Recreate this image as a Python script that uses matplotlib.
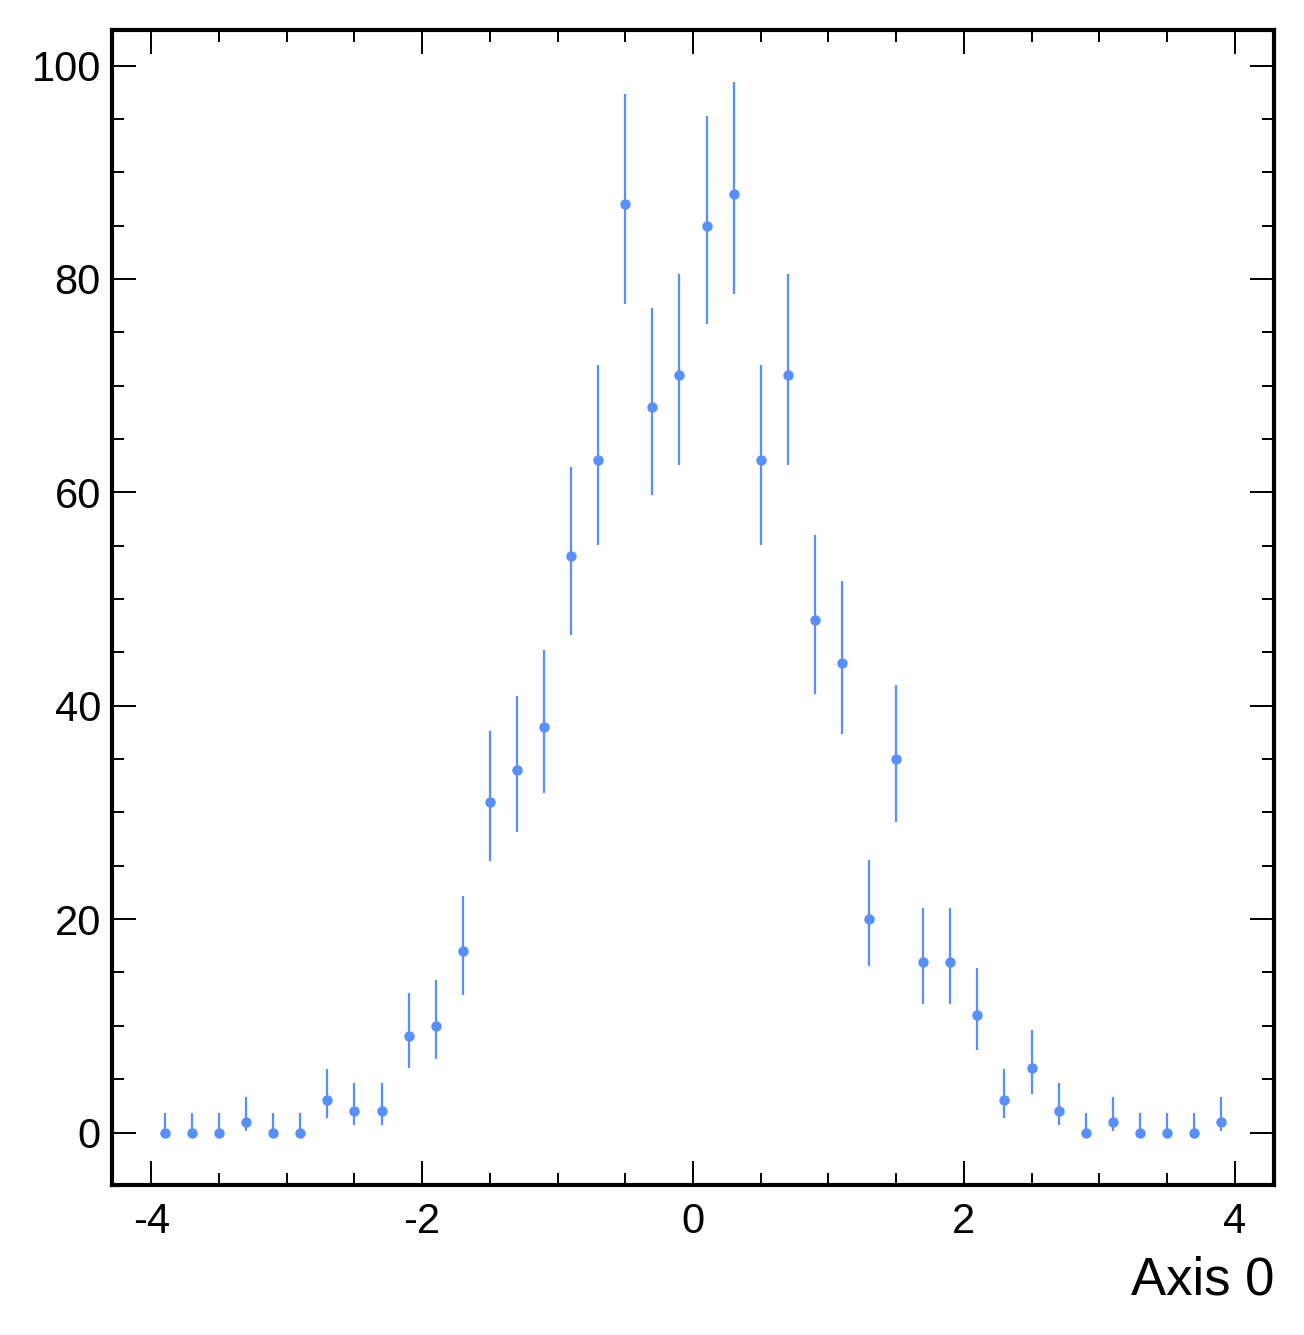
import math
import numpy as np
import matplotlib
matplotlib.use("Agg")
import matplotlib.pyplot as plt
from matplotlib.ticker import MultipleLocator

# Histogram: 40 bins from -4 to 4
bin_edges = np.linspace(-4, 4, 41)
counts = [0, 0, 0, 1, 0, 0, 3, 2, 2, 9,
          10, 17, 31, 34, 38, 54, 63, 87, 68, 71,
          85, 88, 63, 71, 48, 44, 20, 35, 16, 16,
          11, 3, 6, 2, 0, 1, 0, 0, 0, 1]
x_label = "Axis 0"
color = "#5790fc"


def pois_cdf(n, mu):
    s = 0.0
    term = math.exp(-mu)
    for k in range(n + 1):
        if k > 0:
            term *= mu / k
        s += term
    return s


def solve(f, lo, hi):
    for _ in range(200):
        mid = 0.5 * (lo + hi)
        if f(mid) > 0:
            lo = mid
        else:
            hi = mid
    return 0.5 * (lo + hi)


alpha = 0.158655
lows, highs = [], []
for n in counts:
    up = solve(lambda mu: pois_cdf(n, mu) - alpha, n, n + 10 * math.sqrt(n + 1) + 10)
    if n == 0:
        lo = 0.0
    else:
        lo = solve(lambda mu: alpha - (1 - pois_cdf(n - 1, mu)), 0, n)
    lows.append(n - lo)
    highs.append(up - n)

centers = 0.5 * (bin_edges[1:] + bin_edges[:-1])

plt.rcParams['font.family'] = ['Liberation Sans', 'DejaVu Sans']
plt.rcParams['axes.unicode_minus'] = False
fig = plt.figure(figsize=(13.04, 13.35), dpi=100)
ax = fig.add_axes([112 / 1304, 1 - 1185 / 1335, (1274 - 112) / 1304, (1185 - 30) / 1335])

ax.errorbar(centers, counts, yerr=[lows, highs], fmt='o', color=color,
            markersize=6.5, elinewidth=1.6, capsize=0)

ax.xaxis.set_major_locator(MultipleLocator(2))
ax.xaxis.set_minor_locator(MultipleLocator(0.5))
ax.yaxis.set_major_locator(MultipleLocator(20))
ax.yaxis.set_minor_locator(MultipleLocator(5))
ax.tick_params(which='both', direction='in', top=True, right=True, width=1.4)
ax.tick_params(which='major', length=17, labelsize=30)
ax.tick_params(which='minor', length=8.6)
ax.tick_params(axis='x', which='major', pad=12)
ax.tick_params(axis='y', which='major', pad=8)
for s in ax.spines.values():
    s.set_linewidth(3)

ax.set_xlabel(x_label, fontsize=38, loc='right', labelpad=10)

fig.savefig("out.png", dpi=100)
